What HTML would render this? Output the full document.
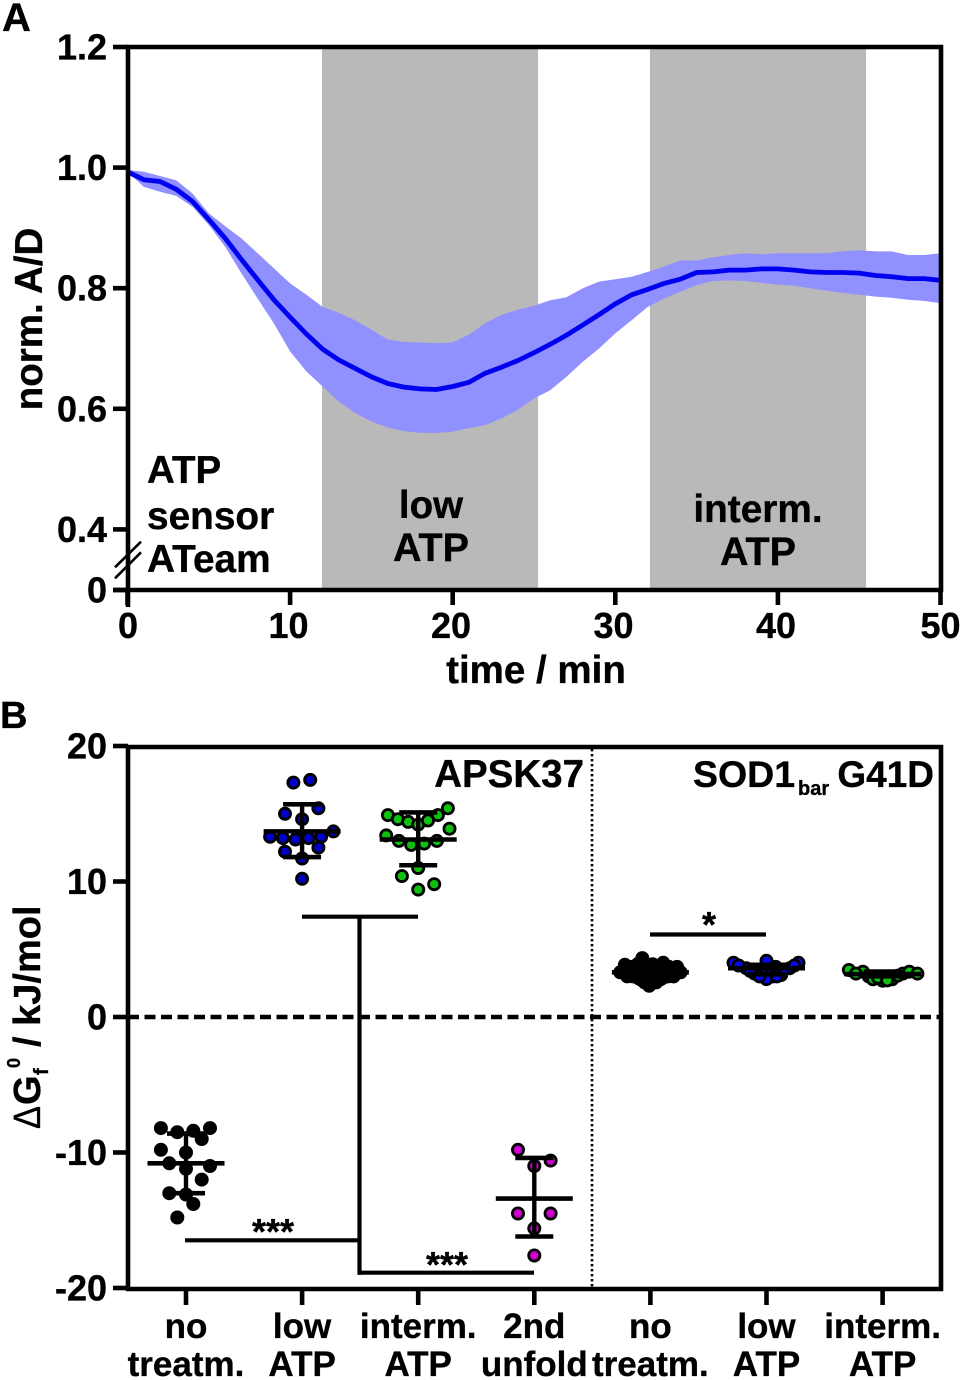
<!DOCTYPE html>
<html>
<head>
<meta charset="utf-8">
<title>ATP sensor and protein stability chart</title>
<style>
html,body{margin:0;padding:0;background:#fff;}
svg{display:block;}
text{font-family:"Liberation Sans",sans-serif;font-weight:bold;fill:#000;stroke:#000;stroke-width:.35px;}
</style>
</head>
<body>
<svg id="chart" xmlns="http://www.w3.org/2000/svg" width="961" height="1380" viewBox="0 0 961 1380">
  <rect x="0" y="0" width="961" height="1380" fill="#fff"/>
  <text x="2" y="31" font-size="40">A</text>
  <text x="0" y="728" font-size="38">B</text>
  <g id="panelA"></g>
  <g id="panelB"></g>
  <g>
    <text x="536" y="683" font-size="38.5" text-anchor="middle">time / min</text>
    <text x="0" y="0" font-size="38.5" text-anchor="middle" transform="translate(42,319) rotate(-90)">norm. A/D</text>
    <text x="147" y="483" font-size="38.5">ATP</text>
    <text x="147" y="529" font-size="38.8">sensor</text>
    <text x="147" y="572" font-size="38.8">ATeam</text>
    <text x="431" y="518" font-size="38.5" text-anchor="middle">low</text>
    <text x="431" y="561" font-size="39.5" text-anchor="middle">ATP</text>
    <text x="758" y="522" font-size="38.8" text-anchor="middle">interm.</text>
    <text x="758" y="565" font-size="39.5" text-anchor="middle">ATP</text>
  </g>
  <g>
    <text x="584" y="787" font-size="38.5" text-anchor="end">APSK37</text>
    <text x="693" y="787" font-size="37.5">SOD1</text>
    <text x="798" y="795" font-size="20">bar</text>
    <text x="934" y="787" font-size="37" text-anchor="end">G41D</text>
    <g transform="translate(40,1130) rotate(-90)">
      <text x="1" y="0" font-size="38" textLength="23" lengthAdjust="spacingAndGlyphs" style="font-weight:normal">Δ</text>
      <text x="25" y="0" font-size="38">G</text>
      <text x="55" y="8" font-size="20">f</text>
      <text x="62" y="-20" font-size="18">0</text>
      <text x="83" y="0" font-size="38">/ kJ/mol</text>
    </g>
  </g>
</svg>
<script>
// ---------- Panel A data ----------
var timeMin = [0,1,2,3,4,5,6,7,8,9,10,11,12,13,14,15,16,17,18,19,20,21,22,23,24,25,26,27,28,29,30,31,32,33,34,35,36,37,38,39,40,41,42,43,44,45,46,47,48,49,50];
var meanAD = [.993,.980,.977,.964,.944,.914,.883,.848,.814,.781,.752,.724,.699,.681,.667,.653,.642,.636,.633,.632,.637,.644,.659,.669,.680,.693,.707,.722,.739,.756,.774,.789,.798,.808,.815,.826,.827,.830,.830,.832,.832,.830,.827,.826,.826,.825,.821,.819,.816,.816,.813];
var upperAD = [.996,.993,.986,.979,.957,.924,.903,.883,.858,.833,.808,.789,.769,.759,.747,.731,.715,.711,.710,.709,.710,.723,.742,.756,.764,.771,.780,.785,.800,.811,.815,.819,.827,.836,.846,.846,.851,.855,.858,.856,.858,.858,.858,.858,.861,.863,.861,.861,.855,.855,.858];
var lowerAD = [.993,.968,.960,.953,.935,.905,.869,.825,.783,.742,.695,.662,.637,.612,.593,.579,.569,.563,.560,.560,.562,.568,.573,.584,.598,.617,.631,.653,.678,.700,.725,.747,.769,.783,.794,.805,.812,.813,.812,.809,.806,.804,.800,.796,.792,.789,.786,.784,.781,.779,.775];
var lowAtpBand = [11.96,25.25];
var intermAtpBand = [32.13,45.42];
var xTicksA = [0,10,20,30,40,50];
var yTicksA = [1.2,1.0,0.8,0.6,0.4,0];
var yTickLabelsA = ["1.2","1.0","0.8","0.6","0.4","0"];

// ---------- Panel B data ----------
var categoriesLine1 = ["no","low","interm.","2nd","no","low","interm."];
var categoriesLine2 = ["treatm.","ATP","ATP","unfold","treatm.","ATP","ATP"];
var yTicksB = [20,10,0,-10,-20];
var groupMean = [-10.8,13.7,13.1,-13.4,3.3,3.6,3.17];
var groupUpper = [-8.6,15.7,15.1,-10.4,3.8,3.85,3.35];
var groupLower = [-13.0,11.8,11.2,-16.2,2.8,3.15,3.0];
var groupColors = ["#000000","#0000c8","#10c010","#d000d0","#000000","#0808f0","#10c010"];

var g0Values = [-8.2,-8.5,-8.4,-8.2,-9.0,-9.8,-10.0,-10.8,-11.0,-11.2,-12.0,-13.0,-13.1,-13.8,-14.8];
var g0Swarm = [-.216,-.075,.063,.207,.135,-.216,0,-.144,.207,0,.135,-.144,0,.063,-.075];
var g1Values = [17.3,17.5,15.4,15.0,14.6,13.7,13.3,13.2,13.1,13.2,13.3,12.5,12.2,11.7,10.2];
var g1Swarm = [-.075,.07,.14,-.147,0,.27,-.276,-.165,-.057,.055,.164,.14,-.147,0,0];
var g2Values = [14.9,14.6,14.4,14.2,14.5,14.9,15.4,13.9,13.4,13.0,12.7,12.8,13.0,11.0,10.4,9.8,9.4];
var g2Swarm = [-.261,-.175,-.086,0,.084,.17,.256,.27,-.276,-.166,-.06,.052,.161,0,-.14,.138,0];
var g3Values = [-9.8,-10.6,-11.0,-14.5,-14.5,-15.6,-17.6];
var g3Swarm = [-.14,.14,0,-.14,.14,0,0];
var g4Values = [3.3,3.3,3.3,3.3,3.3,3.3,3.3,3.3,3.3,3.9,3.85,3.9,3.95,3.7,4.35,4.0,3.0,3.0,2.85,2.85,2.85,3.0,3.0,2.55,2.45,2.55,2.3,2.75,2.75,3.7,3.7,3.5,3.5];
var g4Swarm = [-.26,-.21,-.14,-.07,0,.07,.14,.21,.26,-.11,-.22,.02,.11,.23,-.07,.11,-.2,-.15,-.1,0,.1,.15,.2,-.05,0,.05,-.01,-.08,.08,-.16,.16,-.05,.05];
var g5Values = [3.6,3.2,3.0,3.1,3.6,4.0,4.15,4.0,2.8,3.8,3.8,3.4,3.4,3.0,3.0,3.5,3.7];
var g5Swarm = [-.175,-.103,.055,.126,.2,-.284,0,.276,0,-.24,.24,-.14,.14,-.06,.09,0,.08];
var g6Values = [3.47,3.34,3.0,2.78,2.68,2.78,3.2,3.34,3.2,2.9,2.7,3.05,3.2];
var g6Swarm = [-.29,-.17,-.12,-.083,0,.083,.175,.23,.3,-.04,.04,.13,-.23];
var groupValues = [g0Values,g1Values,g2Values,g3Values,g4Values,g5Values,g6Values];
var groupSwarm = [g0Swarm,g1Swarm,g2Swarm,g3Swarm,g4Swarm,g5Swarm,g6Swarm];

// ---------- Axis functions ----------
function xA(t){return 127.5+t*16.26;}
function yA(v){return v<=0?590:47+(1.2-v)*603;}
function xB(c){return 186+c*116.1;}
function yB(v){return 1017-v*13.55;}

var NS="http://www.w3.org/2000/svg";
function mk(parent,tag,attrs,txt){
  var el=document.createElementNS(NS,tag);
  for(var k in attrs){el.setAttribute(k,attrs[k]);}
  if(txt!==undefined){el.textContent=txt;}
  parent.appendChild(el);
  return el;
}
function bar(parent,x1,y1,x2,y2,w,name){
  var el=mk(parent,'line',{x1:x1,y1:y1,x2:x2,y2:y2,stroke:'#000','stroke-width':w});
  
  
  return el;
}

var A=document.getElementById('panelA');
var B=document.getElementById('panelB');
var el,i,j;

// ---- Panel A ----
el=mk(A,'rect',{x:xA(lowAtpBand[0]),y:47,width:xA(lowAtpBand[1])-xA(lowAtpBand[0]),height:543,fill:'#b9b9b9'});


el=mk(A,'rect',{x:xA(intermAtpBand[0]),y:47,width:xA(intermAtpBand[1])-xA(intermAtpBand[0]),height:543,fill:'#b9b9b9'});



var pts=[];
for(i=0;i<timeMin.length;i++){pts.push(xA(timeMin[i]).toFixed(1)+','+yA(upperAD[i]).toFixed(1));}
for(i=timeMin.length-1;i>=0;i--){pts.push(xA(timeMin[i]).toFixed(1)+','+yA(lowerAD[i]).toFixed(1));}
el=mk(A,'polygon',{points:pts.join(' '),fill:'#9090ff'});



pts=[];
for(i=0;i<timeMin.length;i++){pts.push(xA(timeMin[i]).toFixed(1)+','+yA(meanAD[i]).toFixed(1));}
el=mk(A,'polyline',{points:pts.join(' '),fill:'none',stroke:'#0000f0','stroke-width':4.8,'stroke-linejoin':'round'});



bar(A,128,45,128,607,4.6,'y-axis-a');
bar(A,113,590,943,590,4.6,'x-axis-a');
bar(A,126,47,943,47,4.6,'top-frame-a');
bar(A,941,45,941,592,4.6,'right-frame-a');
bar(A,115,567.3,141,541.7,2.6,'axis-break-upper');
bar(A,115,578.3,141,552.3,2.6,'axis-break-lower');

for(i=0;i<yTicksA.length;i++){
  bar(A,113,yA(yTicksA[i]),128,yA(yTicksA[i]),4.6,'y-tick-a');
  el=mk(A,'text',{x:107,y:yA(yTicksA[i])+12.5,'font-size':36,'text-anchor':'end'},yTickLabelsA[i]);
  
  
}
for(i=0;i<xTicksA.length;i++){
  bar(A,xA(xTicksA[i]),590,xA(xTicksA[i]),605,4.6,'x-tick-a');
  el=mk(A,'text',{x:128+xTicksA[i]*16.25-(xTicksA[i]>0&&xTicksA[i]<50?2:0),y:638,'font-size':36,'text-anchor':'middle'},String(xTicksA[i]));
  
  
}

// ---- Panel B ----
el=mk(B,'line',{x1:592,y1:749,x2:592,y2:1287,stroke:'#000','stroke-width':2.6,'stroke-dasharray':'2.4 2.6'});


el=mk(B,'line',{x1:128,y1:yB(0),x2:941,y2:yB(0),stroke:'#000','stroke-width':4.6,'stroke-dasharray':'11 5.5'});



for(i=0;i<groupValues.length;i++){
  for(j=0;j<groupValues[i].length;j++){
    el=mk(B,'circle',{cx:xB(i+groupSwarm[i][j]).toFixed(1),cy:yB(groupValues[i][j]).toFixed(1),r:5.6,fill:groupColors[i],stroke:'#000','stroke-width':2.8});
    
    
  }
  bar(B,xB(i),yB(groupUpper[i]),xB(i),yB(groupLower[i]),4.4,'error-stem');
  bar(B,xB(i)-38.5,yB(groupMean[i]),xB(i)+38.5,yB(groupMean[i]),4.6,'mean-bar');
  bar(B,xB(i)-19,yB(groupUpper[i]),xB(i)+19,yB(groupUpper[i]),4.6,'error-cap-upper');
  bar(B,xB(i)-19,yB(groupLower[i]),xB(i)+19,yB(groupLower[i]),4.6,'error-cap-lower');
}

// significance brackets
bar(B,302,916.7,418,916.7,4.2,'bracket-low-interm');
bar(B,359.5,915,359.5,1274.7,4.2,'bracket-stem');
bar(B,185,1240.3,359.5,1240.3,4.2,'bracket-no-treatment');
bar(B,358,1272.7,534,1272.7,4.2,'bracket-2nd-unfold');
bar(B,650,934.5,766,934.5,4.2,'bracket-sod1');
el=mk(B,'text',{x:273,y:1244,'font-size':36,'text-anchor':'middle'},'***');


el=mk(B,'text',{x:447,y:1277,'font-size':36,'text-anchor':'middle'},'***');


el=mk(B,'text',{x:709,y:937,'font-size':36,'text-anchor':'middle'},'*');



bar(B,128,745,128,1291,4.6,'y-axis-b');
bar(B,126,747,943,747,4.6,'top-frame-b');
bar(B,941,745,941,1291,4.6,'right-frame-b');
bar(B,126,1289,943,1289,4.6,'x-axis-b');

for(i=0;i<yTicksB.length;i++){
  bar(B,113,yB(yTicksB[i]),128,yB(yTicksB[i]),4.6,'y-tick-b');
  el=mk(B,'text',{x:107,y:yB(yTicksB[i])+12.5,'font-size':36,'text-anchor':'end'},String(yTicksB[i]));
  
  
}
for(i=0;i<categoriesLine1.length;i++){
  bar(B,xB(i),1289,xB(i),1305,4.6,'x-tick-b');
  el=mk(B,'text',{x:xB(i),y:1338,'font-size':35,'text-anchor':'middle'},categoriesLine1[i]);
  
  
  el=mk(B,'text',{x:xB(i),y:1376,'font-size':35,'text-anchor':'middle'},categoriesLine2[i]);
  
  
}
</script>
</body>
</html>
